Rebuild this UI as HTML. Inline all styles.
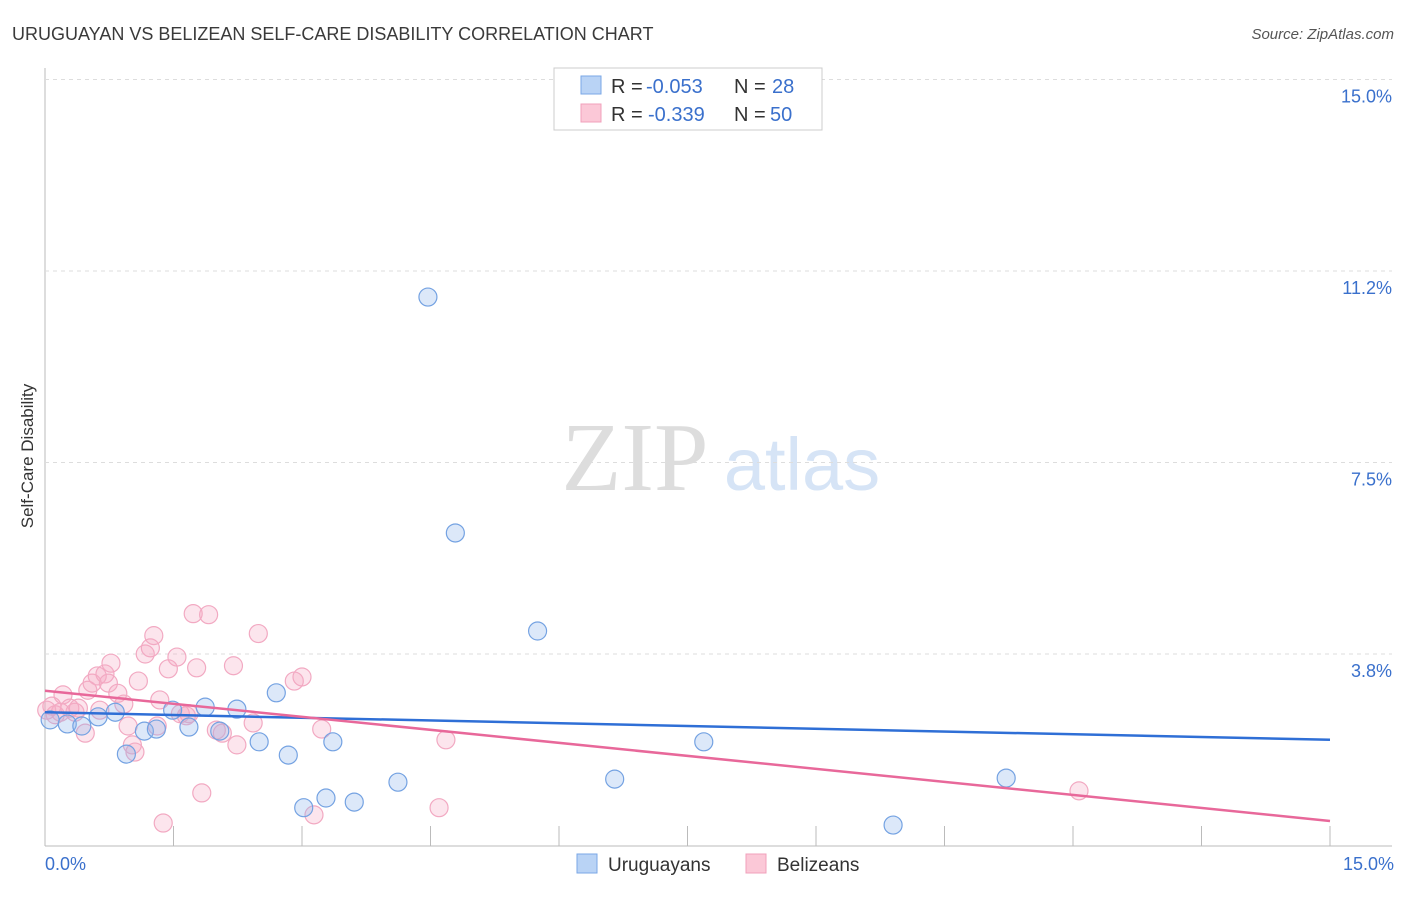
<!DOCTYPE html>
<html><head><meta charset="utf-8"><style>
body{margin:0;background:#fff;font-family:"Liberation Sans",sans-serif;}
svg text{font-family:"Liberation Sans",sans-serif;}
</style></head><body>
<svg width="1406" height="892" id="c">
<text x="12" y="40" font-size="18" fill="#3a3a3a">URUGUAYAN VS BELIZEAN SELF-CARE DISABILITY CORRELATION CHART</text>
<text x="1394" y="39" font-size="15" fill="#555" text-anchor="end" font-style="italic">Source: ZipAtlas.com</text>
<text x="33" y="456" font-size="17" fill="#333" text-anchor="middle" transform="rotate(-90 33 456)">Self-Care Disability</text>
<g>
<text x="635" y="490" font-size="98" fill="#ddd" text-anchor="middle" font-family="Liberation Serif" style="font-family:'Liberation Serif',serif">ZIP</text>
<text x="802" y="490" font-size="74" fill="#d6e4f6" text-anchor="middle">atlas</text>
</g>
<g id="grid"></g><g id="marks"></g>
<g>
<rect x="554" y="68" width="268" height="62" fill="#fff" stroke="#ccc"/>
<rect x="581" y="76" width="20" height="18" fill="#b9d3f5" stroke="#7aa7e6"/>
<rect x="581" y="104" width="20" height="18" fill="#fbc8d7" stroke="#f0a0bb"/>
<text x="611" y="93" font-size="20" fill="#333">R =</text>
<text x="646" y="93" font-size="20" fill="#3a70cc">-0.053</text>
<text x="734" y="93" font-size="20" fill="#333">N =</text>
<text x="772" y="93" font-size="20" fill="#3a70cc">28</text>
<text x="611" y="121" font-size="20" fill="#333">R =</text>
<text x="648" y="121" font-size="20" fill="#3a70cc">-0.339</text>
<text x="734" y="121" font-size="20" fill="#333">N =</text>
<text x="770" y="121" font-size="20" fill="#3a70cc">50</text>
</g>
<g>
<rect x="577" y="854" width="20" height="19" fill="#b9d3f5" stroke="#7aa7e6"/>
<text x="608" y="871" font-size="19" fill="#333">Uruguayans</text>
<rect x="746" y="854" width="20" height="19" fill="#fbc8d7" stroke="#f0a0bb"/>
<text x="777" y="871" font-size="19" fill="#333">Belizeans</text>
</g>
</svg>
<script>
const yTicks=[3.75,7.5,11.25,15];
const yTickLabels=["3.8%","7.5%","11.2%","15.0%"];
const xTicks=[0,1.5,3,4.5,6,7.5,9,10.5,12,13.5,15];
const blueX=[0.06,0.26,0.43,0.62,0.82,0.95,1.16,1.30,1.49,1.68,1.87,2.04,2.24,2.50,2.70,2.84,3.02,3.28,3.36,3.61,4.12,4.47,4.79,5.75,6.65,7.69,9.90,11.22];
const blueY=[2.46,2.38,2.34,2.52,2.61,1.79,2.24,2.28,2.65,2.32,2.71,2.24,2.67,2.03,2.99,1.77,0.74,0.93,2.03,0.85,1.24,10.74,6.12,4.20,1.30,2.03,0.40,1.32];
const pinkX=[0.08,0.12,0.21,0.29,0.35,0.47,0.50,0.55,0.61,0.64,0.70,0.74,0.77,0.85,0.92,0.97,1.02,1.05,1.09,1.17,1.23,1.27,1.31,1.34,1.38,1.44,1.54,1.58,1.68,1.73,1.77,1.83,1.91,2.07,2.20,2.24,2.43,2.49,2.91,3.00,3.14,3.23,4.60,4.68,12.07,0.18,0.02,0.39,2.00,1.65];
const pinkY=[2.73,2.56,2.95,2.69,2.61,2.20,3.04,3.18,3.32,2.65,3.36,3.18,3.57,2.98,2.77,2.34,1.97,1.83,3.22,3.75,3.87,4.11,2.34,2.85,0.44,3.46,3.69,2.58,2.58,4.54,3.48,1.03,4.52,2.20,3.52,1.97,2.40,4.15,3.22,3.30,0.60,2.28,0.74,2.07,1.07,2.61,2.65,2.69,2.26,2.54];
const blueTrend=[2.61,2.07];
const pinkTrend=[3.03,0.48];
const X=v=>45+v/15*1285, Y=v=>845.5-v/3.75*191.5;
const NS="http://www.w3.org/2000/svg";
function mk(t,a,p){const e=document.createElementNS(NS,t);for(const k in a)e.setAttribute(k,a[k]);p.appendChild(e);return e;}
const g=document.getElementById('grid'),m=document.getElementById('marks');
mk('line',{x1:45,y1:68,x2:45,y2:846,stroke:'#bbb'},g);
mk('line',{x1:45,y1:846,x2:1392,y2:846,stroke:'#bbb'},g);
yTicks.forEach((t,i)=>{
 const l=mk('line',{x1:45,y1:Y(t),x2:1392,y2:Y(t),stroke:'#ddd','stroke-dasharray':'4,4'},g);
 
 
 const tx=mk('text',{x:1392,y:Y(t)+23,'font-size':18,fill:'#3a70cc','text-anchor':'end'},g);tx.textContent=yTickLabels[i];
 
 
});
xTicks.forEach((t,i)=>{if(i>0){const l=mk('line',{x1:X(t),y1:826,x2:X(t),y2:846,stroke:'#bbb'},g);
 
 }});
let a=mk('text',{x:45,y:870,'font-size':18,fill:'#3a70cc'},g);a.textContent='0.0%';


a=mk('text',{x:1394,y:870,'font-size':18,fill:'#3a70cc','text-anchor':'end'},g);a.textContent='15.0%';


pinkX.forEach((x,i)=>{const c=mk('circle',{cx:X(x),cy:Y(pinkY[i]),r:9,fill:'rgba(246,170,196,0.3)',stroke:'#f2a9c2','stroke-width':1.2},m);
 
 });
blueX.forEach((x,i)=>{const c=mk('circle',{cx:X(x),cy:Y(blueY[i]),r:9,fill:'rgba(140,180,236,0.3)',stroke:'#74a2e2','stroke-width':1.2},m);
 
 });
let t=mk('line',{x1:X(0),y1:Y(blueTrend[0]),x2:X(15),y2:Y(blueTrend[1]),stroke:'#2f6fd6','stroke-width':2.5},m);


t=mk('line',{x1:X(0),y1:Y(pinkTrend[0]),x2:X(15),y2:Y(pinkTrend[1]),stroke:'#e8689a','stroke-width':2.5},m);


</script>
</body></html>
